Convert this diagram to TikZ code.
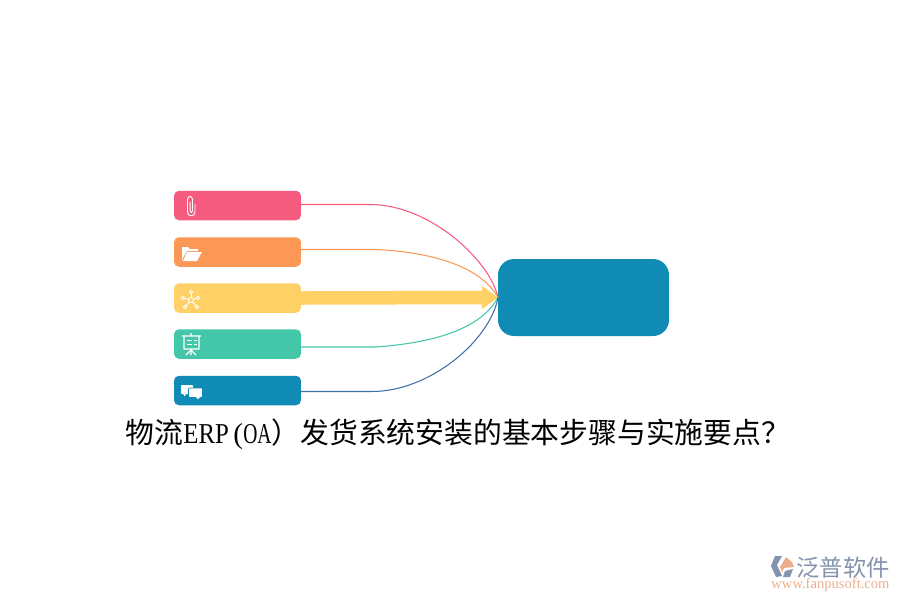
\documentclass[tikz,border=0pt]{standalone}
\usepackage{fontspec}
\setmainfont{Liberation Serif}
\newfontfamily\cjk{Noto Sans CJK SC}
\newfontfamily\urlfont{Liberation Serif}
\usepackage{graphicx}
\usepackage{tikz}
\usetikzlibrary{arrows.meta,positioning,calc}
\definecolor{rosebar}{HTML}{F45B7E}
\definecolor{orangebar}{HTML}{FB9855}
\definecolor{yellowbar}{HTML}{FFD066}
\definecolor{greenbar}{HTML}{44C6A8}
\definecolor{bluebar}{HTML}{108BB5}
\definecolor{bluelink}{HTML}{3F6EA8}
\definecolor{logoslate}{HTML}{8493AD}
\definecolor{logopeach}{HTML}{EBAE8C}
\newcommand{\narrow}[2]{\scalebox{#1}[1]{\urlfont #2}}
\tikzset{
    bar/.style={fill=#1,rounded corners=1.0mm,minimum width=2.54cm,minimum height=0.59cm,inner sep=0pt,outer sep=0pt},
    hub/.style={fill=bluebar,rounded corners=3.2mm,minimum width=3.42cm,minimum height=1.54cm,inner sep=0pt,outer sep=0pt},
    link/.style={color=#1,line width=0.6pt},
    icon/.style={draw=white,line width=0.55pt,line join=round},
}
\begin{document}
\begin{tikzpicture}[x=0.02cm,y=-0.02cm]
    \useasboundingbox (0,0) rectangle (900,600);
    \node[bar=rosebar] (paper) at (237.5,205.5) {};
    \node[bar=orangebar] (folder) at (237.5,252) {};
    \node[bar=yellowbar] (network) at (237.5,298) {};
    \node[bar=greenbar] (board) at (237.5,344) {};
    \node[bar=bluebar] (talk) at (237.5,390.5) {};
    \node[hub] (centre) at (583.5,297.5) {};
    % connectors
    \draw[link=rosebar] ($(paper.east)+(0,-1)$) -- ++(69,0) .. controls +(60,0) and +(-8,-37) .. (centre.west);
    \draw[link=orangebar] ($(folder.east)+(0,-2.5)$) -- ++(75,0) .. controls +(54,2.5) and +(-18,-32) .. (centre.west);
    \draw[yellowbar,line width=0.27cm] (network.east) -- ($(centre.west)+(-16,0)$);
    \fill[yellowbar] (centre.west) -- ++(-16,-11.5) -- ++(0,23) -- cycle;
    \draw[link=greenbar] ($(board.east)+(0,3)$) -- ++(75,0) .. controls +(54,-4) and +(-18,33) .. (centre.west);
    \draw[link=bluelink] ($(talk.east)+(0,1)$) -- ++(71,0) .. controls +(58,0) and +(-8,43) .. (centre.west);
    % icons
    \draw[icon] (195,204) -- (195,212) .. controls (195,217) and (187.5,217) .. (187.5,212) -- (187.5,199.5) .. controls (187.5,195.5) and (192.5,195.5) .. (192.5,199.5) -- (192.5,211) .. controls (192.5,213) and (190.2,213) .. (190.2,211) -- (190.2,202);
    \fill[white] (182,260) -- (182,247) -- (188,247) -- (190,249) -- (198,249) -- (198,251) -- (187,251) -- (184,256) -- cycle;
    \fill[white] (187,252) -- (202,252) -- (197,261) -- (183,261) -- cycle;
    \foreach \px/\py in {191/292,198/298,197/307,185/307,183/298}
        {\draw[icon] (191,300) -- (\px,\py); \draw[icon,fill=yellowbar] (\px,\py) circle (1.8);}
    \draw[icon,fill=yellowbar] (191,300) circle (2.5);
    \draw[icon,line width=0.7pt] (182,336) -- (201,336) (184,336) rectangle (199,349) (191,333) -- (191,336) (191,349) -- (191,355) (191,350) -- (186,355) (191,350) -- (196,355);
    \draw[icon] (187,340) -- (192,340) (187,344) -- (192,344) (194,340) -- (197,340) (194,344) -- (197,344);
    \fill[white,rounded corners=0.5pt] (181,385) -- (193,385) -- (193,394) -- (186,394) -- (184,397) -- (184,394) -- (181,394) -- cycle;
    \filldraw[white,draw=bluebar,line width=0.4pt,rounded corners=0.5pt] (188.5,388) -- (202.5,388) -- (202.5,397.5) -- (199.5,397.5) -- (198.5,400.5) -- (196,397.5) -- (188.5,397.5) -- cycle;
    % title
    \node[font=\cjk\fontsize{16.4}{18}\selectfont,inner sep=0pt,anchor=west] (title) at (125.5,434) {物流\narrow{.86}{ERP}\kern2.6pt{\urlfont(}\kern0.1pt\narrow{.68}{OA}）发货系统安装的基本步骤与实施要点？};
    % logo
    \fill[logoslate] (775,556) -- (782,556) -- (777,565) -- (782,576) -- (776,577) -- (771,566) -- cycle;
    \fill[logopeach] (786,557) -- (792,562) -- (794,567) -- (784,568) -- (782,572) -- (780,567) -- cycle;
    \fill[logoslate] (793,569) -- (790,577) -- (783,577) -- (785,571) -- cycle;
    \node[font=\cjk\fontsize{13.25}{15}\selectfont,text=logoslate,inner sep=0pt] (brand) at (843,567.5) {泛普软件};
    \node[font=\urlfont\fontsize{8.3}{9}\selectfont,text=logopeach,inner sep=0pt] (site) at (830.5,584.5) {www.fanpusoft.com};
\end{tikzpicture}
\end{document}
